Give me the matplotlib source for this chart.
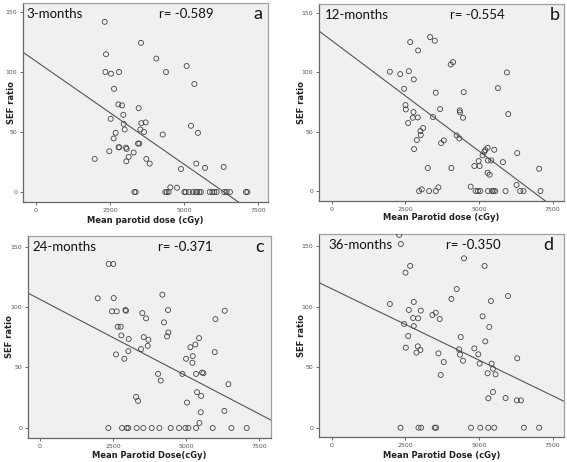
import numpy as np
from matplotlib import pyplot as plt

# panel a - 3 months
a_x = [2320, 2365, 2342, 2534, 2804, 3547, 4065, 4392, 5090, 5349, 2635, 2781, 2905, 3468,
       2522, 2950, 2961, 3558, 3705, 3525, 2995, 3648, 2691, 2624, 4279, 5236, 5472, 3446,
       3490, 2792, 2815, 3040, 3063, 2477, 3130, 3299, 3051, 1982, 3727, 3840, 4898, 5416,
       5709, 6340, 4538, 4763,
       3322, 3367, 4369, 4414, 4482, 5011, 5056, 5169, 5293, 5394, 5439, 5518, 5574, 5867,
       5957, 6024, 6103, 6362, 6441, 6554, 7094, 7139]
a_y = [141.8, 114.8, 100, 98.6, 100, 124.3, 111.2, 100, 105, 90, 86, 73, 72.2, 69.9,
       61, 64.4, 56.8, 57.4, 58, 52.1, 52.1, 50.1, 49.3, 44.6, 47.9, 55.2, 49.3, 40.4,
       40.4, 37.3, 37.3, 37, 35.9, 34, 29.3, 32.9, 25.6, 27.6, 27.6, 23.7, 19.2, 23.7,
       20.1, 20.9, 3.9, 3.6,
       0, 0, 0, 0, 0, 0, 0, 0, 0, 0, 0, 0, 0, 0, 0, 0, 0, 0, 0, 0, 0, 0]

# panel b - 12 months
b_x = [3336, 3495, 2658, 2929, 4038, 4117, 1968, 2319, 2613, 2782, 2454, 3529, 4479, 5644,
       5949, 2499, 2511, 2771, 3676, 4343, 4354, 3438, 4456, 5994, 2590, 2748, 2918, 3008,
       3099, 3020, 2884, 2793, 3710, 3800, 4241, 4332, 5180, 5214, 5293, 5123, 5519, 5304,
       5417, 5813, 6300, 7046, 4988, 4841, 5022, 4060, 3257, 5293, 5361, 4716, 3619, 6277,
       3054,
       2963, 3303, 3529, 4886, 4965, 5044, 5304, 5440, 5497, 5553, 5904, 6401, 6514, 7091]
b_y = [129.8, 126.7, 125.6, 118.5, 106.7, 108.7, 100.6, 98.6, 101.1, 94.1, 86.2, 82.9, 83.4, 86.8,
       100, 72.5, 68.8, 66.6, 69.1, 68, 66.3, 62.4, 61.8, 64.9, 57.3, 61.8, 62.1, 50.6,
       53.1, 47.2, 43, 35.4, 40.4, 42.7, 46.9, 44.4, 33.1, 34.6, 36.5, 30.1, 34.8, 25.8,
       25.8, 24.4, 32, 18.8, 25.3, 21.1, 21.1, 19.4, 19.4, 15.4, 13.8, 3.7, 3.1, 5.1,
       1.4,
       0, 0, 0, 0, 0, 0, 0, 0, 0, 0, 0, 0, 0, 0]

# panel c - 24 months
c_x = [2353, 2512, 1976, 2524, 4191, 2467, 2627, 2924, 2946, 3506, 3632, 4386, 6327, 6007,
       2661, 2764, 2787, 3038, 3552, 3712, 3689, 3460, 3026, 2604, 2889, 4248, 4397, 4351,
       5150, 5321, 5447, 5230, 5002, 5219, 5984, 4876, 5550, 5596, 5345, 4043, 4134, 6452,
       5379, 5516, 3289, 3358, 5036, 5504, 6315, 5459,
       2341, 2809, 2969, 3026, 3312, 3540, 3826, 4088, 4476, 4762, 4979, 5082, 5345, 5916,
       6555, 7080]
c_y = [135.6, 135.6, 107.2, 107.4, 110.2, 96.4, 96.4, 97.5, 96.9, 95, 90.6, 97.5, 96.9, 90,
       83.7, 83.7, 76.5, 73.5, 75.1, 72.9, 67.9, 65.2, 63.5, 60.8, 57.2, 87.3, 79, 75.7,
       66.8, 69, 74.3, 59.4, 57.2, 53.9, 62.7, 44.7, 45.8, 45.3, 44.7, 44.7, 39.2, 36.2,
       29.6, 26.5, 25.7, 22.4, 21, 13, 14.1, 4.1,
       0, 0, 0, 0, 0, 0, 0, 0, 0, 0, 0, 0, 0, 0, 0, 0]

# panel d - 36 months
d_x = [2285, 2341, 2658, 2499, 1968, 2782, 2613, 3020, 2929, 2760, 3416, 3529, 3664, 2454,
       2782, 2590, 2511, 2918, 3008, 2873, 3619, 3800, 3698, 4490, 5191, 4241, 4060, 5983,
       5406, 5123, 5350, 4377, 5214, 4320, 4354, 4841, 4976, 4456, 5022, 5429, 5474, 5564,
       5293, 6300, 5474, 5316, 5904, 6289, 6424,
       2330, 2941, 3031, 3495, 3540, 4728, 5044, 5316, 5519, 6526, 7046]
d_y = [159.5, 152, 133.8, 128.2, 102.3, 104, 97.4, 96.8, 90.5, 90.7, 93.2, 95.1, 89.9, 85.8,
       84.1, 75.8, 66.2, 67.3, 64.3, 62.1, 61.5, 54.3, 43.6, 140.1, 133.8, 114.7, 106.5, 108.9,
       104.8, 92.1, 83.3, 75, 71.4, 64.8, 60.4, 65.6, 60.7, 55.4, 53, 53, 48.8, 44.1,
       45, 57.4, 29.5, 24.3, 24.5, 22.6, 22.6,
       0, 0, 0, 0, 0, 0, 0, 0, 0, 0, 0]

# fit lines (intercept, slope)
fit_intercept = [108.9, 126.7, 106.3, 114.8]
fit_slope = [-0.01714, -0.01861, -0.01262, -0.01178]

titles = ["3-months", "12-months", "24-months", "36-months"]
r_texts = ["r= -0.589", "r= -0.554", "r= -0.371", "r= -0.350"]
letters = ["a", "b", "c", "d"]
xlabels = ["Mean parotid dose (cGy)", "Mean Parotid dose (cGy)",
           "Mean Parotid Dose(cGy)", "Mean Parotid Dose (cGy)"]

W, H = 567, 462
# panel boxes in pixels: left, top, right, bottom
boxes = [(23, 3, 268, 202), (319, 4, 564, 201), (28, 236, 271, 438), (319, 234, 564, 437)]
xlims = [(-440, 7838), (-442, 7891), (-411, 7911), (-442, 7891)]
ylims = [(-8.3, 157.5), (-8.4, 157.7), (-8.3, 158.7), (-7.7, 160.2)]
title_x = [0.015, 0.025, 0.017, 0.037]
r_x = [0.555, 0.535, 0.535, 0.52]
letter_x = [0.94, 0.94, 0.934, 0.914]
ylabel_px = [12, 301, 10, 302]
xlabel_py = [221, 217, 455, 455]

xs = [a_x, b_x, c_x, d_x]
ys = [a_y, b_y, c_y, d_y]

fig = plt.figure(figsize=(W / 100, H / 100), dpi=100)
fig.patch.set_facecolor("white")

for i in range(4):
    l, t, r, b = boxes[i]
    ax = fig.add_axes([l / W, (H - b) / H, (r - l) / W, (b - t) / H])
    ax.set_facecolor("#f0f0f0")
    ax.scatter(xs[i], ys[i], s=13, facecolors="none", edgecolors="#444444", linewidths=0.6,
               zorder=3, clip_on=True)
    ax.axline((0, fit_intercept[i]), slope=fit_slope[i], color="#555555", lw=0.8, zorder=2)
    ax.set_xlim(*xlims[i])
    ax.set_ylim(*ylims[i])
    ax.set_xticks([0, 2500, 5000, 7500])
    ax.set_yticks([0, 50, 100, 150])
    ax.tick_params(labelsize=4.5, length=2.5, width=0.6, colors="#555555", pad=1.5)
    for side in ("left", "bottom"):
        ax.spines[side].set_color("#666666")
        ax.spines[side].set_linewidth(0.9)
    for side in ("top", "right"):
        ax.spines[side].set_color("#a0a0a0")
        ax.spines[side].set_linewidth(0.9)

    ax.text(title_x[i], 0.975, titles[i], transform=ax.transAxes, ha="left", va="top",
            fontsize=9.5, family="Lato", color="#111111")
    ax.text(r_x[i], 0.975, r_texts[i], transform=ax.transAxes, ha="left", va="top",
            fontsize=9.5, family="Lato", color="#111111")
    ax.text(letter_x[i], 0.985, letters[i], transform=ax.transAxes, ha="left", va="top",
            fontsize=13, family="Lato", color="#111111")

    fig.text((l + r) / 2 / W, 1 - xlabel_py[i] / H, xlabels[i], ha="center", va="center",
             fontsize=6, fontweight="bold", color="#222222")
    fig.text(ylabel_px[i] / W, 1 - (t + b) / 2 / H, "SEF ratio", ha="center", va="center",
             rotation=90, fontsize=6, fontweight="bold", color="#222222")

fig.savefig("out.png", dpi=100)
